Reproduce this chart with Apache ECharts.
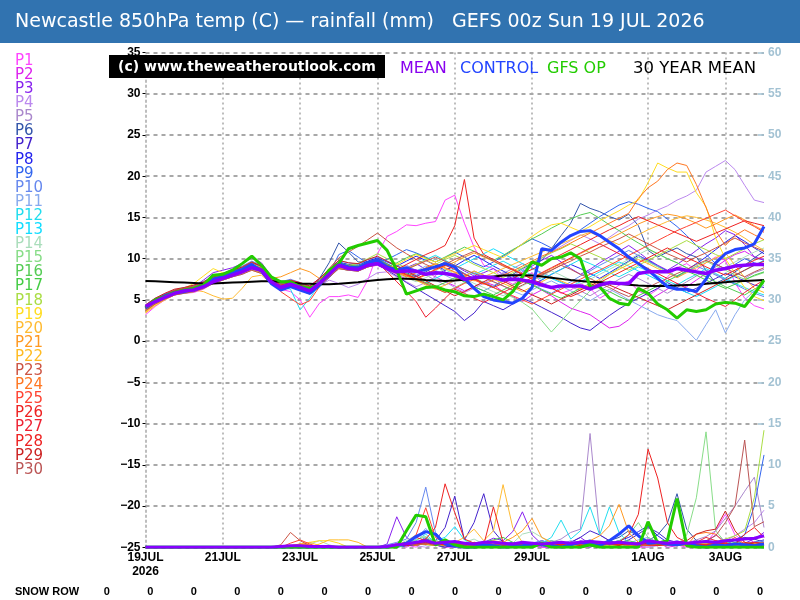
<!DOCTYPE html>
<html>
<head>
<meta charset="utf-8">
<script src="https://cdn.jsdelivr.net/npm/echarts@6/dist/echarts.min.js"></script>
<style>html,body{margin:0;padding:0;background:#fff}#chart{width:800px;height:600px}</style>
</head>
<body>
<div id="chart"></div>
<script>
// forecast steps (hours from 19 JUL 00z)
const hours = [0,6,12,18,24,30,36,42,48,54,60,66,72,78,84,90,96,102,108,114,120,126,132,138,144,150,156,162,168,174,180,186,192,198,204,210,216,222,228,234,240,246,252,258,264,270,276,282,288,294,300,306,312,318,324,330,336,342,348,354,360,366,372,378,384];
const dayTicks = [0,48,96,144,192,240,312,360];
const dayLabels = ['19JUL\n2026','21JUL','23JUL','25JUL','27JUL','29JUL','1AUG','3AUG'];

const memberNames = ['P1','P2','P3','P4','P5','P6','P7','P8','P9','P10','P11','P12','P13','P14','P15','P16','P17','P18','P19','P20','P21','P22','P23','P24','P25','P26','P27','P28','P29','P30'];
const memberColors = ['#ff44ff','#dd22ee','#8822ee','#bb88ee','#aa88cc','#3355aa','#4422cc','#2222ee','#3366ee','#6688ee','#88aaee','#22ddee','#11ddff','#aaddbb','#88dd88','#55cc55','#44cc44','#aadd44','#ffdd22','#ffbb33','#ff9922','#ffbb22','#cc5544','#ff7722','#ff4433','#ee2222','#ee2233','#ee2222','#cc2222','#bb5555'];

// 850hPa temperature per member (C)
const p01 = [3.2,4.2,5.0,5.6,5.8,5.9,6.3,7.0,7.4,7.8,8.2,8.6,8.3, 7.0,6.3,6.0,5.0,2.9,4.6,5.4,5.4,5.6,5.3,7.4,10.6,12.7, 13.3,14.1,14.0,14.3,14.5,17.1,17.7,14.3,11.4,9.2,8.8,7.5,6.9, 7.6,8.3,7.1,6.5,5.8,6.2,7.0,6.4,5.2,5.9,6.8,7.3,6.1, 5.5,6.3,7.8,8.9,9.4,8.6,9.5,10.2,9.8,7.1,5.2,4.3,3.9];
const p02 = [3.8,4.6,5.2,5.7,6.0,6.1,6.5,7.2,7.5,7.9,8.3,8.8,8.4, 7.2,6.5,6.8,6.4,6.0,6.8,7.9,8.9,8.6,8.5,9.0,9.2,8.7, 8.1,7.5,7.9,8.4,7.8,7.2,6.7,6.1,6.6,7.2,6.8,6.0,5.4, 4.8,5.6,6.2,5.5,4.7,4.0,3.6,3.2,2.4,1.6,1.8,2.6,3.8, 4.9,5.6,6.3,7.0,6.6,7.4,8.2,9.0,9.8,10.5,10.9,10.2,9.9];
const p03 = [4.1,4.9,5.5,6.0,6.2,6.6,7.4,8.3,8.6,8.9,9.4,10.1,9.5, 7.9,6.7,7.1,6.8,6.3,7.2,8.3,9.4,9.0,8.9,9.5,9.8,9.1, 8.5,8.9,9.4,8.7,8.0,8.6,9.2,8.5,7.9,8.3,8.8,8.1,7.6, 8.4,9.1,9.8,10.4,9.6,8.8,8.1,8.7,9.5,10.2,10.9,11.6,10.8, 9.9,9.2,8.6,9.3,10.1,11.0,11.8,12.5,13.4,12.9,11.7,10.2,9.8];
const p04 = [3.6,4.5,5.1,5.6,5.9,6.1,6.4,7.0,7.4,7.8,8.1,8.7,8.3, 7.2,6.4,6.7,6.3,5.9,6.7,7.4,7.0,6.5,6.9,7.6,8.3,8.4, 7.8,7.2,6.6,7.1,7.8,7.2,6.5,5.9,6.4,7.0,7.7,8.3,7.9, 8.6,9.3,10.1,10.8,11.5,12.2,12.9,12.4,11.8,12.6,13.4,14.0,14.8, 15.3,15.9,16.4,17.1,17.6,18.3,20.5,21.2,21.9,20.8,18.9,17.1,16.8];
const p05 = [3.9,4.7,5.3,5.8,6.0,6.2,6.7,7.3,7.6,8.1,8.5,9.0,8.6, 7.4,6.8,7.0,6.7,6.2,7.0,8.1,9.1,8.9,8.8,9.3,9.6,9.0, 8.7,9.2,8.6,8.0,7.4,6.8,7.3,7.9,8.5,8.0,7.5,8.2,8.8, 9.4,8.9,8.3,7.8,7.2,6.6,6.1,5.5,6.2,6.8,7.5,8.1,7.6, 7.0,6.4,5.8,6.5,7.2,7.9,8.6,8.1,7.5,6.9,7.6,8.3,8.7];
const p06 = [4.2,5.0,5.5,6.0,6.2,6.5,6.9,7.5,7.9,8.3,8.6,9.2,8.8, 7.6,6.9,7.2,6.9,6.5,7.6,9.5,11.9,10.8,9.6,9.6,10.0,9.4, 8.8,8.3,7.8,8.4,9.0,9.6,8.9,8.2,7.6,7.1,6.6,7.3,8.1, 8.8,9.4,9.8,11.2,12.8,14.3,16.7,16.1,15.7,15.1,14.7,15.4,14.0, 11.0,10.2,10.8,11.3,10.6,10.2,8.6,7.0,7.6,8.4,9.2,10.1,10.9];
const p07 = [4.0,4.8,5.3,5.8,6.1,6.3,6.6,7.2,7.6,8.0,8.3,8.8,8.4, 7.1,6.3,6.6,6.2,5.7,6.6,7.7,8.8,8.6,8.5,9.0,9.3,8.6, 7.9,7.1,6.4,5.7,5.0,4.3,3.6,2.5,3.4,4.8,4.3,3.8,4.5, 5.2,4.7,4.1,3.5,2.9,2.2,1.6,1.3,2.2,3.1,3.9,4.6,5.2, 5.8,6.4,7.1,6.5,5.9,6.4,7.0,7.6,8.2,7.8,7.3,6.8,6.5];
const p08 = [4.3,5.1,5.6,6.1,6.4,6.6,7.0,7.7,8.1,8.5,8.9,9.5,9.1, 7.8,7.0,7.3,7.0,6.6,7.4,8.5,9.6,9.3,9.2,9.7,10.1,9.6, 9.1,9.7,10.3,9.8,9.2,8.6,9.1,9.8,10.4,9.8,9.1,8.5,7.9, 7.3,6.8,7.4,8.1,8.7,9.3,8.8,8.2,7.6,8.3,9.0,9.7,10.4, 9.8,9.1,8.5,7.8,8.6,9.4,10.2,11.1,12.0,12.8,12.1,11.3,10.6];
const p09 = [3.7,4.6,5.2,5.7,5.9,6.1,6.5,7.1,7.5,7.9,8.3,8.8,8.4, 7.3,6.6,6.9,6.6,6.2,7.0,8.2,10.5,11.0,10.2,9.4,9.6,9.9, 10.5,11.1,10.7,10.2,9.6,10.1,10.8,10.2,9.5,9.0,9.6,10.3,11.0, 11.8,12.4,11.9,11.3,12.0,12.7,13.5,14.3,15.1,15.8,16.5,16.9,16.6, 16.1,15.7,14.8,13.9,12.8,11.6,10.5,9.4,8.7,9.3,10.0,9.5,9.1];
const p10 = [4.4,5.2,5.7,6.2,6.5,6.8,7.2,7.9,8.2,8.7,9.1,9.7,9.2, 7.9,7.2,7.5,7.1,6.7,7.6,8.7,9.8,9.5,9.3,9.9,10.2,9.7, 9.2,8.6,8.0,8.5,9.1,8.4,7.8,7.2,6.6,6.1,6.7,7.4,8.0, 7.5,6.9,6.3,5.8,6.5,7.2,7.9,8.5,9.2,9.8,10.4,11.0,10.4, 9.7,9.1,8.4,7.7,8.4,9.1,8.6,8.0,7.4,6.9,6.3,5.8,5.4];
const p11 = [3.9,4.7,5.3,5.8,6.0,6.3,6.7,7.3,7.7,8.1,8.4,9.0,8.6, 7.4,6.7,7.0,6.7,6.3,7.1,8.2,9.2,9.0,8.8,9.3,9.5,9.0, 8.4,7.9,8.5,9.1,8.6,8.0,7.4,7.9,8.4,7.8,7.2,6.7,6.1, 5.6,6.2,6.8,7.3,6.7,6.1,5.5,4.9,5.6,6.3,5.7,5.0,4.4, 3.8,3.2,2.8,2.5,1.3,0.1,2.0,3.8,1.0,3.2,5.0,6.1,6.8];
const p12 = [4.0,4.9,5.4,5.9,6.1,6.3,6.7,7.3,7.7,8.1,8.5,9.0,8.6, 7.2,6.5,6.3,3.8,5.2,6.9,8.0,9.1,8.8,8.7,9.2,9.5,8.9, 8.3,8.8,9.3,9.9,10.4,9.8,9.2,8.7,8.1,8.6,9.2,9.7,9.1, 8.6,8.0,7.5,8.1,8.7,9.3,9.9,9.4,8.9,8.3,7.8,8.4,9.0, 8.5,7.9,7.3,6.8,7.5,8.1,8.8,8.2,7.6,7.0,6.5,6.0,5.6];
const p13 = [4.2,5.0,5.5,6.0,6.3,6.5,6.9,7.5,7.9,8.3,8.7,9.2,8.8, 7.5,6.8,7.1,6.8,6.4,7.2,8.3,9.4,9.1,9.0,9.5,9.8,9.2, 8.6,8.0,7.5,7.0,7.6,8.2,8.8,9.4,10.0,10.6,11.2,10.6,10.0, 9.4,8.8,8.2,7.6,7.1,6.6,7.2,7.8,8.4,9.0,9.6,9.1,8.5, 8.0,7.4,6.9,6.4,5.9,5.4,6.0,6.6,7.3,7.9,8.6,9.2,9.8];
const p14 = [3.8,4.6,5.2,5.7,5.9,6.1,6.5,7.1,7.5,7.9,8.2,8.7,8.3, 7.2,6.5,6.8,6.5,6.1,6.9,8.0,9.0,8.8,8.6,9.1,9.4,8.8, 8.2,7.7,7.2,7.7,8.2,8.7,8.1,7.6,7.0,6.5,6.0,5.5,6.1, 6.7,7.3,7.9,8.5,8.0,7.4,6.9,7.5,8.1,8.7,9.3,9.9,10.5, 11.1,10.6,10.0,9.5,8.9,8.4,7.8,8.4,9.0,9.6,10.2,10.8,11.3];
const p15 = [4.1,4.9,5.4,5.9,6.2,6.4,6.8,7.4,7.8,8.2,8.6,9.1,8.7, 7.4,6.7,7.0,6.7,6.3,7.1,8.2,9.3,9.0,8.9,9.4,9.7,9.1, 8.5,7.9,7.4,6.9,6.4,5.9,6.5,7.1,7.7,7.1,6.5,5.9,5.3, 4.7,3.9,2.5,1.1,2.4,3.7,4.9,6.1,7.2,8.1,8.9,9.6,10.2, 9.6,9.0,8.4,7.9,8.5,9.1,9.7,9.1,8.6,8.0,7.5,7.9,8.3];
const p16 = [4.0,4.8,5.4,5.9,6.1,6.3,6.7,7.3,7.7,8.1,8.4,9.0,8.6, 7.3,6.6,6.9,6.6,6.2,7.0,8.1,9.2,8.9,8.8,9.3,9.6,9.0, 9.5,10.1,10.6,10.1,9.6,10.2,10.8,11.4,10.9,10.3,9.8,10.4,11.1, 11.7,12.4,13.0,13.7,14.3,14.8,15.3,15.6,14.9,14.1,13.4,12.6,11.9, 11.2,10.6,10.0,9.5,8.9,8.3,7.8,7.2,6.6,6.1,5.6,6.3,7.0];
const p17 = [4.3,5.1,5.6,6.1,6.3,6.6,7.0,7.6,8.0,8.4,8.8,9.3,8.9, 7.6,6.9,7.2,6.9,6.5,7.3,8.4,9.5,9.2,9.1,9.6,9.9,9.3, 8.7,8.2,7.6,7.1,6.6,7.1,7.7,7.2,6.6,6.1,5.6,6.2,6.8, 7.3,6.8,6.2,5.7,5.2,5.8,6.4,7.0,6.5,6.0,5.4,4.9,5.5, 6.1,6.7,7.3,7.9,8.5,8.0,7.4,6.9,6.4,6.9,7.4,8.0,8.4];
const p18 = [3.7,4.5,5.1,5.6,5.8,6.0,6.4,7.0,7.4,7.8,8.2,8.7,8.3, 7.1,6.4,6.7,6.4,6.0,6.8,8.2,9.3,9.2,9.4,10.0,10.6,10.0, 9.4,8.9,8.3,8.8,9.3,9.9,10.4,9.9,9.3,8.8,8.3,7.7,8.3, 8.9,9.5,10.1,10.7,11.2,11.8,11.3,10.7,10.2,9.6,9.1,8.6,9.2, 9.8,10.4,11.0,11.6,12.2,11.6,11.1,10.5,10.0,10.6,11.2,11.8,12.3];
const p19 = [3.5,4.4,5.1,5.8,6.4,7.0,7.9,8.8,8.3,8.0,8.2,8.6,8.2, 7.0,6.3,6.6,6.3,5.9,6.7,7.8,8.8,8.6,8.5,9.0,9.3,8.8, 9.3,9.9,10.5,10.0,9.6,10.1,10.6,11.1,11.6,11.1,10.6,10.1,10.9, 11.8,12.7,13.5,14.1,14.3,13.8,13.3,13.9,14.6,15.2,15.8,16.5,17.1, 19.2,21.6,21.0,20.5,20.5,18.0,16.3,12.5,10.0,8.2,6.5,5.4,4.9];
const p20 = [3.4,4.3,5.0,5.6,5.9,6.2,6.0,5.5,5.1,5.2,6.4,7.8,8.0, 7.0,6.4,6.7,6.4,6.0,6.8,7.9,8.9,8.7,8.6,9.1,9.4,8.9, 8.4,8.8,9.3,9.8,9.3,8.8,8.3,7.8,7.3,7.8,8.3,8.8,9.3, 9.8,10.3,10.8,11.3,11.8,12.3,12.8,13.2,12.7,12.2,11.7,12.3,12.9, 13.5,14.0,14.5,14.9,15.2,15.0,14.7,14.3,13.8,13.2,12.5,11.7,11.0];
const p21 = [3.6,4.5,5.1,5.6,5.9,6.1,6.5,7.1,7.5,7.9,8.3,8.8,8.4, 7.6,7.8,8.3,8.8,8.4,7.6,8.0,9.1,8.8,8.7,9.2,9.5,9.0, 8.5,8.0,7.5,8.0,8.6,9.1,9.6,10.2,10.7,10.2,9.7,9.2,8.7, 8.2,7.7,8.2,8.8,9.4,10.0,10.6,11.2,11.8,12.4,13.0,13.6,14.2, 14.7,15.1,15.4,15.2,14.8,14.3,13.7,14.2,14.8,15.3,14.7,14.0,13.4];
const p22 = [3.9,4.7,5.3,5.8,6.0,6.2,6.6,7.2,7.6,8.0,8.4,8.9,8.5, 7.3,6.6,6.9,6.6,6.2,7.0,8.1,9.2,8.9,8.8,9.3,9.6,9.0, 8.4,7.9,7.4,6.8,6.3,6.8,7.4,7.9,8.5,8.0,7.5,7.0,6.5, 6.0,6.6,7.2,7.8,7.3,6.8,6.3,6.9,7.5,8.1,8.7,9.3,9.9, 9.4,8.8,8.3,7.7,8.3,8.9,9.5,10.1,10.7,9.2,7.7,6.4,5.9];
const p23 = [4.3,5.1,5.7,6.2,6.4,6.7,7.1,7.7,8.1,8.5,8.9,9.5,9.0, 7.7,7.0,7.3,7.0,6.6,7.5,8.8,10.1,10.8,11.5,12.3,13.1,12.2, 11.3,10.6,9.9,9.3,8.8,9.3,9.9,10.4,10.9,10.3,9.7,9.1,8.6, 8.1,7.6,8.1,8.6,9.2,9.7,10.3,10.8,11.4,11.9,12.4,13.0,12.4, 11.8,11.2,10.6,10.1,9.6,10.2,10.7,11.3,11.9,12.5,11.9,11.4,10.9];
const p24 = [3.8,4.6,5.2,5.7,5.9,6.2,6.5,7.1,7.5,7.9,8.3,8.8,8.4, 7.1,6.4,6.7,6.4,6.0,6.8,7.9,9.0,8.8,8.6,9.1,9.4,8.8, 8.3,7.8,8.3,8.9,9.4,8.9,8.4,7.9,7.4,6.9,7.4,8.0,8.5, 9.1,9.7,10.3,10.8,11.3,11.9,12.5,13.1,13.7,14.3,14.9,15.5,17.3, 18.6,19.4,20.8,21.6,21.3,19.0,16.2,13.4,11.6,12.8,13.5,12.9,12.3];
const p25 = [4.1,4.9,5.5,6.0,6.2,6.4,6.8,7.4,7.8,8.2,8.6,9.1,8.7, 7.2,6.0,5.2,4.4,4.9,6.6,8.0,9.2,8.9,8.8,9.3,9.6,9.0, 8.5,8.0,7.5,7.0,6.4,5.9,6.4,7.0,7.5,7.0,6.5,6.0,5.5, 5.0,4.5,5.1,5.7,6.3,6.9,7.5,8.1,8.6,9.2,9.8,10.4,11.0, 11.6,12.2,12.8,13.4,13.9,14.4,14.9,15.4,15.9,15.2,14.5,13.9,13.2];
const p26 = [4.2,5.0,5.6,6.1,6.3,6.5,6.9,7.6,7.9,8.3,8.7,9.2,8.8, 7.5,6.8,7.1,6.8,6.4,7.2,8.3,9.4,9.1,9.0,9.5,9.8,9.2, 8.7,9.3,9.9,10.5,11.0,11.6,14.0,19.6,12.5,10.5,9.9,9.3,8.7, 8.1,7.5,7.0,6.4,5.9,5.4,5.9,6.5,7.1,7.7,8.3,8.9,9.5, 10.1,10.7,11.3,10.7,10.1,9.6,9.0,8.5,8.0,8.6,9.2,9.8,10.3];
const p27 = [3.9,4.7,5.3,5.8,6.0,6.2,6.6,7.2,7.6,8.0,8.4,8.9,8.5, 7.3,6.6,6.9,6.6,6.2,7.0,8.1,9.1,8.9,8.8,9.3,9.5,8.4, 7.2,6.0,4.8,2.9,4.0,5.2,6.3,5.8,5.2,4.7,5.3,5.9,6.5, 7.1,7.7,8.3,8.9,9.5,10.1,10.7,11.3,11.8,11.2,10.6,10.0,9.4, 8.8,8.2,7.6,7.0,6.4,5.8,5.2,4.7,4.2,5.0,5.9,6.7,7.4];
const p28 = [4.0,4.8,5.4,5.9,6.1,6.3,6.7,7.3,7.7,8.1,8.5,9.0,8.6, 7.4,6.7,7.0,6.7,6.3,7.1,8.2,9.3,9.0,8.9,9.4,9.7,9.1, 8.6,8.1,7.6,8.1,8.7,9.2,8.7,8.1,7.6,7.0,6.5,7.0,7.6, 8.2,8.7,9.3,9.9,10.5,11.1,11.7,12.3,12.9,13.5,14.0,14.6,15.1, 14.6,14.1,13.6,13.1,12.6,12.1,12.6,13.1,13.6,14.1,14.6,14.3,14.0];
const p29 = [4.4,5.2,5.8,6.3,6.5,6.8,7.2,7.8,8.2,8.6,9.0,9.6,9.1, 7.8,7.1,7.4,7.1,6.7,7.6,8.7,9.8,9.5,9.4,9.9,10.3,9.7, 9.1,8.5,7.9,7.3,6.7,6.1,5.5,6.0,6.6,7.2,7.8,7.3,6.7, 6.2,5.6,5.1,4.5,5.1,5.6,6.2,6.7,7.3,6.8,6.3,5.8,5.3, 4.8,4.3,3.8,4.4,5.0,5.6,6.2,6.8,7.4,8.0,8.6,9.2,9.7];
const p30 = [3.7,4.5,5.1,5.6,5.8,6.0,6.4,7.0,7.4,7.8,8.1,8.6,8.2, 7.0,6.3,6.6,6.3,5.9,6.7,7.8,8.8,8.6,8.5,9.0,9.3,8.7, 8.2,8.7,9.2,9.7,10.2,9.7,9.2,8.7,8.2,7.7,7.2,6.7,6.2, 6.8,7.4,8.0,8.6,9.2,8.7,8.1,7.6,7.0,6.5,5.9,5.4,6.0, 6.5,7.1,7.6,8.2,8.7,9.3,9.8,9.3,8.8,8.3,7.8,8.4,8.9];

// rainfall per member (mm)
const r01 = [0,0,0,0,0,0,0,0,0,0,0,0,0, 0,0,0,0,0,0,0,0,0,0,0,0,0, 0.5,0.3,0,0.8,0.4,0,0,0.3,0,0,0.6,0.2,0, 0,0.3,0,0,0.5,0.2,0,0,0.4,0,0,0.3,0, 0,0.4,0.8,0.3,0,0,0.5,2.0,4.0,1.5,0.6,0.3,0.2];
const r02 = [0,0,0,0,0,0,0,0,0,0,0,0,0, 0,0,0,0,0,0,0,0,0,0,0,0,0.2, 0.4,0,0.6,1.0,0.3,0,0.2,0,0.5,0.2,0,0,0.3, 0.6,0.2,0,0,0.3,0,0.8,0.4,0,0.2,0.5,0,0, 0.3,0.6,0,0.2,0.4,0,0,0.5,0.8,0.3,1.2,0.6,0.4];
const r03 = [0,0,0,0,0,0,0,0,0,0,0,0,0, 0,0,0.2,0,0,0,0,0,0,0,0,0,0.4, 3.7,1.2,0.4,0.8,0.3,0,0.5,0.2,0,0.6,1.1,0.8,1.9, 4.3,1.5,0.4,0,0.3,0.6,1.2,0.4,0,0.2,0.7,0.3,0.2, 0.5,0.8,0.3,0.4,0.2,0,0.6,1.5,0.7,0.3,0.5,1.0,1.8];
const r04 = [0,0,0,0,0,0,0,0,0,0,0,0,0, 0,0,0,0,0,0,0,0,0,0,0,0,0, 0.3,0.6,0.2,0,0.4,0.9,0.3,0,0.2,0,0.4,0.6,0.3, 0.2,0,0.5,0.3,0,0.2,0.8,0.6,0.3,0,0.2,0.5,0.3, 0,0.2,0.4,0.3,0.6,0.2,0.3,0.5,0.8,1.4,2.2,3.0,4.5];
const r05 = [0,0,0,0,0,0,0,0,0,0,0,0,0, 0,0,0,0,0,0,0,0,0,0,0,0,0, 0.2,0.5,0.3,0.8,0.4,0.2,0,0.3,0.6,0.2,0.4,0.7,0.3, 0.5,0.2,0.3,0.6,1.0,1.8,2.2,13.8,1.5,0.8,0.4,0.3,0.5, 0.6,0.3,0.2,0.4,0.5,0.9,1.3,2.0,3.5,5.0,6.8,8.5,2.4];
const r06 = [0,0,0,0,0,0,0,0,0,0,0,0,0, 0,0,0,0,0,0,0,0,0,0,0,0,0, 0,0.3,0.2,0.6,0.3,0,0.4,0.2,0,0.3,0.5,0.2,0, 0.2,0,0.4,0.3,0.2,0.6,0.3,0,0.5,0.8,1.2,2.0,1.4, 0.8,1.5,2.9,6.5,2.2,0.8,0.4,0.3,0.6,0.9,1.2,1.0,0.6];
const r07 = [0,0,0,0,0,0,0,0,0,0,0,0,0, 0,0,0,0,0,0,0,0,0,0,0,0,0, 0.2,0.5,0.4,1.0,0.8,2.4,6.2,0.9,3.0,6.5,2.0,0.6,0.3, 0.2,0.4,0.8,0.5,0.3,0.6,1.2,2.0,1.5,0.8,0.5,0.9,1.6, 2.4,1.8,0.9,0.6,0.3,0.2,0.4,0.3,0.5,0.8,0.4,0.6,0.9];
const r08 = [0,0,0,0,0,0,0,0,0,0,0,0,0, 0,0,0,0,0,0,0,0,0,0,0,0,0, 0,0.2,0.4,0.3,0.6,0.2,0,0.3,0.5,0.2,0,0.4,0.6, 0.3,0.5,0.2,0,0.4,0.3,0.6,0.2,0.3,0.5,0.8,1.2,1.9, 2.6,1.4,0.6,0.3,0.2,0.4,0.3,0.2,0.5,0.3,0.4,0.6,0.8];
const r09 = [0,0,0,0,0,0,0,0,0,0,0,0,0, 0,0,0,0,0,0,0,0,0,0,0,0,0, 0.3,0.2,0.5,1.2,0.6,0.3,0.2,0.4,0,0.3,0.6,0.4,0.2, 0.3,0.2,0.5,0.8,0.4,0.3,0.6,0.9,0.5,0.3,0.2,0.4,0.3, 0.6,0.3,0.5,0.2,0.4,0.3,0.2,0.4,0.6,0.9,1.5,5.0,11.2];
const r10 = [0,0,0,0,0,0,0,0,0,0,0,0,0, 0,0,0,0,0,0,0,0,0,0,0,0,0.3, 0.6,1.0,3.0,7.3,1.8,0.6,0.4,0.3,0.2,0.5,0.3,0.2,0.4, 0.3,0.5,0.8,0.4,0.3,0.2,0.6,0.4,0.3,0.5,0.8,0.4,0.3, 0.2,0.3,0.5,0.8,0.4,0.3,0.2,0.3,0.5,0.4,0.3,0.6,0.5];
const r11 = [0,0,0,0,0,0,0,0,0,0,0,0,0, 0,0,0,0,0,0,0,0,0,0,0,0,0, 0,0.4,1.0,2.3,0.8,0.3,0.2,0.5,0.3,0,0.4,0.2,0.3, 0.5,0.3,0.2,0.6,0.4,0.8,0.5,0.3,0.2,0.4,0.3,0.5,0.9, 1.2,0.6,0.4,0.3,0.2,0.4,0.3,0.2,0.5,0.3,0.4,0.6,0.8];
const r12 = [0,0,0,0,0,0,0,0,0,0,0,0,0, 0,0,0,0,0,0,0,0,0,0,0,0,0, 0.2,0.5,0.8,1.6,0.5,0.3,0.2,0.6,0.4,0.3,0.5,0.2,0.4, 0.6,0.3,0.5,1.2,3.3,1.0,2.0,4.9,1.5,4.9,1.8,0.5,0.3, 0.4,0.6,0.3,0.2,0.4,0.5,0.3,0.2,0.6,0.4,0.3,0.5,0.4];
const r13 = [0,0,0,0,0,0,0,0,0,0,0,0,0, 0,0,0,0,0,0,0,0,0,0,0,0,0, 0,0.3,0.6,0.4,0.8,1.2,2.5,0.9,0.4,0.2,0.3,0.5,0.2, 0.3,0.6,0.4,0.2,0.5,0.3,0.6,0.8,0.4,0.3,0.5,0.2,0.4, 0.3,0.5,0.2,0.4,0.3,0.6,0.4,0.3,0.2,0.5,0.3,0.4,0.6];
const r14 = [0,0,0,0,0,0,0,0,0,0,0,0,0, 0,0,0,0,0.4,0.8,0.3,0,0,0,0,0,0, 0.3,0.8,1.5,1.2,0.6,0.4,0.3,0.6,1.0,0.4,0.2,0.3,0.5, 1.6,1.9,1.2,0.6,0.3,0.5,0.4,0.2,0.3,0.6,0.4,0.3,0.2, 0.4,0.3,0.6,0.4,0.3,0.5,0.2,0.4,0.3,0.6,0.4,0.3,0.5];
const r15 = [0,0,0,0,0,0,0,0,0,0,0,0,0, 0,0,0,0,0,0,0,0,0,0,0,0,0, 0.2,0.4,0.9,1.3,0.5,0.3,0.2,0.4,0.3,0.5,0.2,0.6,0.4, 0.3,0.2,0.5,0.8,0.6,0.3,0.2,0.4,0.3,0.5,0.8,1.5,3.0, 1.2,0.6,0.4,0.3,1.5,6.0,14.0,2.0,0.6,0.3,0.4,0.2,0.3];
const r16 = [0,0,0,0,0,0,0,0,0,0,0,0,0, 0,0,0,0,0,0,0,0,0,0,0,0,0, 0,0.3,0.5,0.8,0.4,0.2,0.6,0.3,0.2,0.4,0.7,0.3,0.2, 0.5,0.3,0.2,0.4,0.6,0.3,0.5,0.2,0.4,0.3,0.6,0.8,0.5, 0.3,0.6,0.4,0.2,0.3,0.5,0.4,0.2,0.3,0.6,0.4,0.3,0.2];
const r17 = [0,0,0,0,0,0,0,0,0,0,0,0,0, 0,0,0,0,0,0,0,0,0,0,0,0,0, 0.3,0.2,0.6,1.0,0.4,0.3,0.5,0.2,0.4,0.6,0.9,1.2,0.6, 0.3,0.5,0.2,0.4,0.3,0.6,0.4,0.2,0.5,0.3,0.4,0.6,0.3, 0.2,0.4,0.3,0.5,0.2,0.3,0.4,0.6,0.3,0.2,0.4,0.3,0.5];
const r18 = [0,0,0,0,0,0,0,0,0,0,0,0,0, 0,0,0,0,0,0,0,0,0,0,0,0,0, 0.2,0.4,0.6,0.3,0.2,0.5,0.3,0.2,0.4,0.6,0.3,0.5,0.2, 0.4,0.3,0.6,0.2,0.5,0.3,0.4,0.6,0.3,0.2,0.5,0.4,0.3, 0.5,0.3,0.4,0.2,0.3,0.5,0.4,0.6,1.0,1.4,2.0,6.0,14.2];
const r19 = [0,0,0,0,0,0,0,0,0,0,0,0,0, 0,0,0.2,0.4,0.6,0.8,0.8,0.5,0,0,0,0,0, 0.3,0.2,0.5,0.4,0.3,0.6,0.2,0.4,0.3,0.2,0.5,0.3,0.4, 0.2,0.6,0.3,0.4,0.5,0.3,0.2,0.6,0.4,0.3,0.2,0.4,0.5, 0.3,0.2,0.4,0.6,0.3,0.2,0.5,0.3,0.4,0.2,0.3,0.5,0.4];
const r20 = [0,0,0,0,0,0,0,0,0,0,0,0,0, 0,0,0,0.3,0.6,0.2,0,0,0,0,0,0,0, 0.4,0.6,0.3,0.5,0.8,0.4,0.6,1.2,2.2,0.8,2.0,7.6,2.4, 0.6,0.4,0.3,0.5,0.2,0.6,0.4,0.3,0.5,0.3,0.6,0.4,0.2, 0.3,0.5,0.4,0.2,0.3,0.6,0.4,0.3,0.5,0.2,0.4,0.3,0.6];
const r21 = [0,0,0,0,0,0,0,0,0,0,0,0,0, 0,0,0,0,0,0,0,0,0,0,0,0,0, 0.2,0.4,0.3,0.6,0.4,0.2,0.5,0.3,0.6,0.4,0.8,0.6,1.2, 2.0,3.5,1.2,0.6,0.4,0.3,0.5,0.8,1.4,2.6,5.2,1.8,0.6, 0.4,0.3,0.5,0.2,0.4,0.3,0.6,0.4,0.3,0.5,0.4,0.2,0.3];
const r22 = [0,0,0,0,0,0,0,0,0,0,0,0,0, 0,0,0,0,0,0.4,0.9,0.9,0.9,0.6,0,0,0, 0.2,0.3,0.5,0.4,0.2,0.6,0.3,0.5,0.4,0.2,0.3,0.6,0.4, 0.3,0.5,0.2,0.4,0.6,0.3,0.2,0.4,0.5,0.3,0.6,0.4,0.2, 0.5,0.3,0.4,0.6,0.2,0.3,0.5,0.4,0.2,0.3,0.6,0.4,0.3];
const r23 = [0,0,0,0,0,0,0,0,0,0,0,0,0, 0,0.3,1.8,0.8,0.2,0,0,0,0,0,0,0,0, 0.3,0.2,0.5,0.4,0.6,0.3,0.2,0.4,0.3,0.5,0.2,0.4,0.3, 0.5,0.3,0.2,0.4,0.3,0.6,0.4,0.2,0.3,0.5,0.4,0.3,0.2, 0.4,0.6,0.3,0.2,0.5,0.4,0.3,0.6,0.4,0.3,0.5,0.2,0.4];
const r24 = [0,0,0,0,0,0,0,0,0,0,0,0,0, 0,0,0.2,0.4,0.3,0,0,0,0,0,0,0,0, 0.3,0.5,0.2,0.6,0.4,0.3,0.5,0.2,0.4,0.3,0.6,0.2,0.5, 0.3,0.2,0.4,0.6,0.3,0.5,0.2,0.4,0.3,0.6,0.4,0.2,0.3, 0.6,0.4,0.3,0.5,0.2,1.6,1.8,1.6,0.4,0.3,0.5,0.2,0.4];
const r25 = [0,0,0,0,0,0,0,0,0,0,0,0,0, 0,0,0.5,0.9,0.4,0,0,0,0,0,0,0,0, 0.3,0.6,1.5,4.8,1.2,0.5,0.3,0.2,0.4,0.6,0.3,0.5,0.2, 0.4,0.3,0.6,0.2,0.5,0.3,0.4,0.2,0.6,0.3,0.5,0.4,0.3, 0.2,0.4,0.3,0.6,0.5,0.4,0.3,0.8,0.5,1.2,0.4,0.3,0.5];
const r26 = [0,0,0,0,0,0,0,0,0,0,0,0,0, 0,0,0,0,0,0,0,0,0,0,0,0,0, 0.2,0.4,0.6,1.0,2.4,7.7,4.2,1.0,0.5,0.3,4.9,0.6,0.3, 0.2,0.4,0.3,0.5,0.2,0.6,0.3,0.4,0.2,0.5,0.3,0.6,0.4, 0.3,0.2,0.5,0.4,0.6,0.3,0.2,0.4,0.5,0.3,1.6,2.4,1.2];
const r27 = [0,0,0,0,0,0,0,0,0,0,0,0,0, 0,0,0,0,0,0,0,0,0,0,0,0,0, 0.3,0.6,1.2,0.8,0.4,0.3,0.5,0.2,0.6,0.4,0.3,0.5,0.2, 0.4,0.3,0.2,0.5,0.3,0.6,0.4,0.2,0.3,0.5,0.4,0.3,0.6, 0.4,0.2,0.3,0.5,0.4,0.6,1.2,0.8,0.5,0.3,0.4,0.6,0.3];
const r28 = [0,0,0,0,0,0,0,0,0,0,0,0,0, 0,0,0,0,0,0,0,0,0,0,0,0,0, 0.2,0.3,0.5,0.4,0.6,0.3,0.2,0.5,0.4,0.3,0.6,0.2,0.4, 0.3,0.5,0.2,0.4,0.3,0.6,0.5,0.3,0.2,0.4,0.6,1.5,4.0, 11.9,8.4,3.0,1.2,0.6,0.4,0.3,0.5,0.2,0.4,0.3,0.6,0.5];
const r29 = [0,0,0,0,0,0,0,0,0,0,0,0,0, 0,0,0,0,0,0,0,0,0,0,0,0,0, 0.3,0.2,0.4,0.6,0.3,0.5,0.2,0.4,0.3,0.6,0.2,0.5,0.3, 0.4,0.2,0.5,0.3,0.6,0.4,0.2,0.3,0.5,0.4,0.2,0.6,0.3, 0.5,0.3,0.4,0.6,0.8,1.6,2.0,2.2,4.4,2.0,0.6,0.4,0.3];
const r30 = [0,0,0,0,0,0,0,0,0,0,0,0,0, 0,0,0,0,0,0,0,0,0,0,0,0,0, 0.2,0.4,0.3,0.5,0.2,0.6,0.4,0.3,0.2,0.5,0.3,0.4,0.2, 0.3,0.5,0.4,0.2,0.6,0.3,0.4,0.2,0.5,0.3,0.6,0.4,0.2, 0.4,0.3,0.5,0.2,0.4,0.6,0.8,1.4,3.0,5.0,13.0,2.5,3.1];

// highlighted runs
const meanT = [4.2,4.8,5.3,5.8,6.1,6.2,6.6,7.2,7.6,8.0,8.4,8.9,8.6, 7.2,6.5,6.9,6.5,6.1,7.0,8.1,9.2,8.8,8.7,9.2,9.4,8.8, 8.4,8.5,8.5,8.1,8.3,8.2,8.0,7.5,7.7,7.8,7.7,7.4,7.5, 7.4,7.2,6.8,6.5,6.7,6.7,6.7,6.3,6.8,7.1,7.0,7.0,8.2, 8.4,8.4,8.4,8.8,8.6,8.4,8.2,8.6,8.8,9.1,9.2,9.3,9.3];
const controlT = [4.0,4.9,5.5,5.9,6.0,6.3,6.8,7.5,7.8,8.3,8.7,9.3,8.5, 7.0,6.2,6.6,6.2,5.8,6.8,8.3,9.4,9.0,8.9,9.5,9.8,9.0, 8.6,8.9,8.4,8.7,9.0,9.4,9.0,7.6,6.4,5.4,5.0,4.8,4.6, 5.2,6.5,11.2,11.0,12.0,12.8,13.3,13.4,12.8,12.0,11.2,10.2,9.4, 8.6,7.6,6.6,6.3,6.3,6.0,7.5,9.5,10.6,11.1,11.3,11.8,13.9];
const opT = [4.1,5.0,5.4,5.9,6.2,6.4,6.8,8.0,8.1,8.6,9.4,10.3,9.2, 7.8,7.2,7.2,6.6,6.4,6.9,8.6,9.4,11.2,11.6,11.9,12.2,11.0, 8.6,5.7,6.1,6.5,6.6,6.2,6.0,5.5,5.4,5.7,5.4,5.0,6.0, 7.8,9.6,9.2,10.0,10.2,10.7,10.0,6.6,6.6,5.2,4.6,4.4,6.4, 5.8,4.5,3.8,2.8,3.8,3.6,3.8,4.5,4.7,4.6,4.2,5.7,7.4];
const climT = [7.3,7.25,7.2,7.15,7.1,7.05,7.0,7.0,7.05,7.1,7.15,7.2,7.25, 7.25,7.2,7.1,7.0,6.95,6.9,6.9,6.95,7.05,7.15,7.3,7.4,7.5, 7.55,7.55,7.5,7.4,7.35,7.3,7.35,7.45,7.6,7.75,7.85,7.95,8.0, 8.0,7.95,7.85,7.7,7.55,7.4,7.3,7.2,7.15,7.05,6.95,6.85,6.75, 6.7,6.7,6.7,6.75,6.8,6.85,6.95,7.05,7.15,7.25,7.3,7.35,7.4];
const meanR = [0,0,0,0,0,0,0,0,0,0,0,0,0, 0,0.1,0.2,0.2,0.1,0.1,0.1,0,0,0,0,0,0.1, 0.3,0.4,0.6,0.8,0.5,0.6,0.7,0.5,0.4,0.6,0.6,0.5,0.4, 0.6,0.5,0.4,0.5,0.6,0.5,0.6,0.7,0.6,0.5,0.6,0.5,0.4, 0.8,0.6,0.5,0.6,0.5,0.6,0.7,0.6,0.8,0.9,1.0,1.1,1.4];
const controlR = [0,0,0,0,0,0,0,0,0,0,0,0,0, 0,0,0,0,0,0,0,0,0,0,0,0,0, 0.2,0.5,1.3,1.9,1.6,0.4,0.2,0,0,0.3,0.2,0,0.1, 0.2,0.4,0.3,0.2,0,0.3,0.6,0.4,0.2,0.8,1.6,2.6,1.4, 0.5,0.6,0.4,0.3,0.5,0.2,0,0.3,0.2,0.4,0.3,0.2,0.4];
const opR = [0,0,0,0,0,0,0,0,0,0,0,0,0, 0,0,0,0,0,0,0,0,0,0,0,0,0, 0,2.0,3.9,3.7,0.3,0.9,0.3,0,0,0,0,0,0, 0,0,0.5,0,0,0,0,0.3,0,0,0,0,0, 3.1,0.5,0.8,5.9,0.2,0,0,0,0,0,0,0,0];
const snowRow = [0,0,0,0,0,0,0,0,0,0,0,0,0,0,0,0];

const tempMembers = [p01,p02,p03,p04,p05,p06,p07,p08,p09,p10,p11,p12,p13,p14,p15,p16,p17,p18,p19,p20,p21,p22,p23,p24,p25,p26,p27,p28,p29,p30];
const rainMembers = [r01,r02,r03,r04,r05,r06,r07,r08,r09,r10,r11,r12,r13,r14,r15,r16,r17,r18,r19,r20,r21,r22,r23,r24,r25,r26,r27,r28,r29,r30];

const chart = echarts.init(document.getElementById('chart'));

const gridColor = '#a8a8a8';
const rainAxisColor = '#a3c2d3';

function lineSeries (name, data, color, width, axis) {
  return {
    name: name,
    type: 'line',
    data: data,
    yAxisIndex: axis,
    symbol: 'none',
    silent: true,
    lineStyle: { color: color, width: width },
    itemStyle: { color: color }
  }
}

const series = []
tempMembers.forEach((d, i) => series.push(lineSeries(memberNames[i], d, memberColors[i], 1, 0)))
rainMembers.forEach((d, i) => series.push(lineSeries(memberNames[i] + ' rain', d, memberColors[i], 1, 1)))
series.push(lineSeries('30 YEAR MEAN', climT, '#000000', 2, 0))
series.push(lineSeries('CONTROL rain', controlR, '#2244ff', 3, 1))
series.push(lineSeries('GFS OP rain', opR, '#22cc00', 3, 1))
series.push(lineSeries('MEAN rain', meanR, '#8800ff', 3, 1))
series.push(lineSeries('CONTROL', controlT, '#2244ff', 3, 0))
series.push(lineSeries('GFS OP', opT, '#22cc00', 3, 0))
series.push(lineSeries('MEAN', meanT, '#8800ff', 3.5, 0))

const mid = { textVerticalAlign: 'middle', verticalAlign: 'middle' }
const graphics = [
  { type: 'rect', shape: { x: 0, y: 0, width: 800, height: 43 }, style: { fill: '#3173b0' } },
  { type: 'text', x: 15, y: 22, style: Object.assign({ text: 'Newcastle 850hPa temp (C) \u2014 rainfall (mm)   GEFS 00z Sun 19 JUL 2026', fill: '#ffffff', font: '19px "DejaVu Sans"' }, mid) },
  { type: 'rect', shape: { x: 109, y: 55, width: 276, height: 23 }, style: { fill: '#000000' }, z: 10 },
  { type: 'text', x: 118, y: 67, z: 11, style: Object.assign({ text: '(c) www.theweatheroutlook.com', fill: '#ffffff', font: 'bold 14px "DejaVu Sans"' }, mid) },
  { type: 'text', x: 400, y: 69, z: 11, style: Object.assign({ text: 'MEAN', fill: '#8800ee', font: '16px "DejaVu Sans"' }, mid) },
  { type: 'text', x: 460, y: 69, z: 11, style: Object.assign({ text: 'CONTROL', fill: '#2244ff', font: '16px "DejaVu Sans"' }, mid) },
  { type: 'text', x: 547, y: 69, z: 11, style: Object.assign({ text: 'GFS OP', fill: '#22cc00', font: '16px "DejaVu Sans"' }, mid) },
  { type: 'text', x: 633, y: 69, z: 11, style: Object.assign({ text: '30 YEAR MEAN', fill: '#000000', font: '16.5px "DejaVu Sans"' }, mid) },
  { type: 'text', x: 15, y: 592, style: Object.assign({ text: 'SNOW ROW', fill: '#000000', font: 'bold 11px "Liberation Sans"' }, mid) }
]
memberNames.forEach((n, i) => {
  graphics.push({ type: 'text', x: 15, y: 61 + i * 14.1, style: Object.assign({ text: n, fill: memberColors[i], font: '15px "DejaVu Sans"' }, mid) })
})
snowRow.forEach((v, i) => {
  graphics.push({ type: 'text', x: 106.7 + i * 43.55, y: 592, style: Object.assign({ text: String(v), fill: '#000000', font: 'bold 11px "Liberation Sans"', textAlign: 'center', align: 'center' }, mid) })
})

chart.setOption({
  animation: false,
  backgroundColor: '#ffffff',
  grid: { left: 145.5, right: 36, top: 52.5, bottom: 52.7 },
  xAxis: {
    type: 'category',
    data: hours.map(String),
    boundaryGap: false,
    axisLine: { show: false },
    axisTick: { show: false },
    axisLabel: {
      interval: (i, v) => dayTicks.indexOf(+v) >= 0,
      formatter: (v) => dayLabels[dayTicks.indexOf(+v)],
      color: '#000',
      fontFamily: 'Liberation Sans',
      fontWeight: 'bold',
      fontSize: 12,
      lineHeight: 14,
      margin: 3
    },
    splitLine: {
      show: true,
      interval: (i, v) => dayTicks.indexOf(+v) > 0,
      lineStyle: { color: gridColor, type: [2, 3], width: 1.5 }
    }
  },
  yAxis: [
    {
      type: 'value',
      min: -25,
      max: 35,
      interval: 5,
      z: 3,
      axisLine: { show: true, lineStyle: { color: gridColor, type: [2, 3], width: 1.5 } },
      axisTick: { show: true, length: 3, lineStyle: { color: '#000' } },
      axisLabel: {
        color: '#000',
        fontFamily: 'Liberation Sans',
        fontWeight: 'bold',
        fontSize: 12,
        margin: 5,
        formatter: (v) => String(v).replace('-', '\u2212')
      },
      splitLine: { show: true, lineStyle: { color: gridColor, type: [4, 4], width: 2 } }
    },
    {
      type: 'value',
      position: 'right',
      min: 0,
      max: 60,
      interval: 5,
      z: 3,
      axisLine: { show: false },
      axisTick: { show: true, inside: true, length: 6, lineStyle: { color: rainAxisColor, width: 1.5 } },
      axisLabel: { color: rainAxisColor, fontFamily: 'Liberation Sans', fontWeight: 'bold', fontSize: 12, margin: 4 },
      splitLine: { show: false }
    }
  ],
  graphic: graphics,
  series: series
})
</script>
</body>
</html>
